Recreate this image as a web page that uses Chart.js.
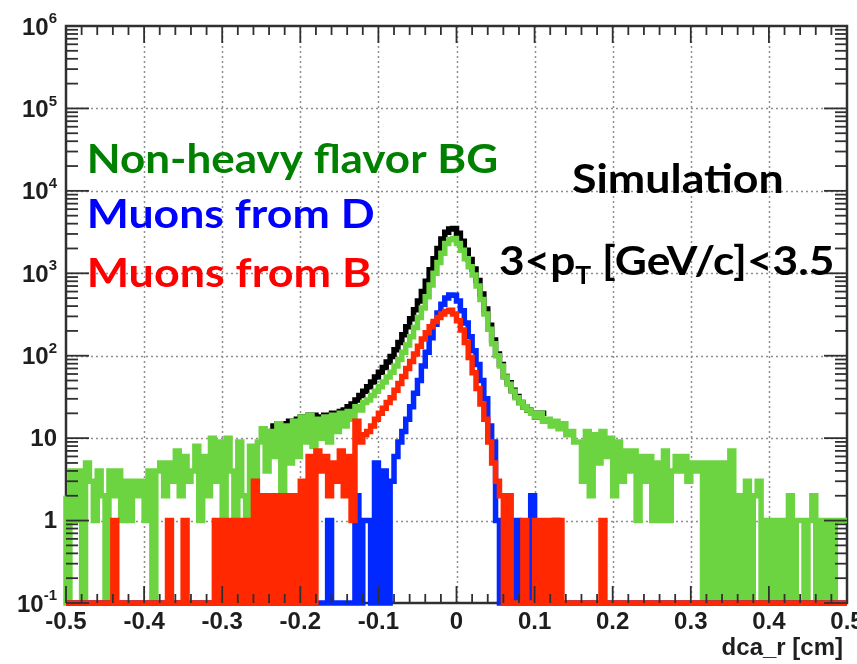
<!DOCTYPE html>
<html>
<head>
<meta charset="utf-8">
<script src="https://cdn.jsdelivr.net/npm/chart.js@4.4.1/dist/chart.umd.min.js"></script>
<style>
  html, body { margin: 0; padding: 0; background: #fff; }
  #wrap { width: 857px; height: 664px; position: relative; }
  canvas { display: block; }
</style>
</head>
<body>
<div id="wrap"><canvas id="c" width="857" height="664"></canvas></div>
<script>
// ---- binning of the dca_r histograms ----
const dcaMin = -0.5;
const dcaMax = 0.5;
const binWidth = 0.005;          // 200 bins over [-0.5, 0.5]
const yFloor = 0.1;              // bottom of the log axis (empty bins sit here)
const yCeil = 1e6;

// ---- axis ticks ----
const xTicks = [-0.5, -0.4, -0.3, -0.2, -0.1, 0, 0.1, 0.2, 0.3, 0.4, 0.5];
const xTickLabels = ["-0.5", "-0.4", "-0.3", "-0.2", "-0.1", "0", "0.1", "0.2", "0.3", "0.4", "0.5"];
const yDecades = [-1, 0, 1, 2, 3, 4, 5, 6];
const xTitle = "dca_r [cm]";

// ---- counts per bin ----
// Non-heavy flavor background (green)
const bgCounts = [
  2, 0, 4, 1, 4, 0, 5, 3, 1, 4,
  2, 0, 4, 2, 4, 1, 3, 1, 3, 2,
  3, 1, 4, 0, 4, 5, 2, 5, 3, 7,
  2, 6, 3, 4, 8, 1, 6, 2, 10, 3,
  9, 1, 10, 4, 1, 9, 2, 1, 8, 3,
  9, 13, 4, 12, 6, 15, 1, 14, 5, 16,
  6, 18, 9, 19, 8, 17, 10, 18, 9, 19,
  12, 20, 14, 21, 17, 24, 22, 27, 29, 33,
  37, 42, 48, 55, 63, 75, 90, 110, 135, 170,
  220, 290, 380, 520, 720, 1000, 1350, 1750, 2300, 2550,
  2650, 2300, 1900, 1500, 1200, 950, 700, 480, 320, 210,
  140, 100, 75, 55, 45, 37, 31, 27, 24, 22,
  20, 18, 20, 16, 17, 14, 16, 13, 15, 11,
  12, 9, 9, 3, 12, 2, 11, 5, 12, 6,
  10, 2, 9, 3, 7, 4, 7, 1, 6, 3,
  6, 1, 5, 1, 7, 1, 4, 6, 4, 6,
  3, 5, 4, 5, 0, 5, 0, 5, 0, 5,
  0, 7, 0, 2, 0, 3, 0, 2, 3, 0,
  1, 0, 1, 0, 1, 0, 2, 0, 1, 1,
  0, 1, 2, 0, 1, 0, 1, 0, 1, 1
];

// Muons from D (blue)
const charmCounts = [
  0, 0, 0, 0, 0, 0, 0, 0, 0, 0,
  0, 0, 0, 0, 0, 0, 0, 0, 0, 0,
  0, 0, 0, 0, 0, 0, 0, 0, 0, 0,
  0, 0, 0, 0, 0, 0, 0, 0, 0, 0,
  0, 0, 0, 0, 0, 0, 0, 0, 0, 0,
  0, 0, 0, 0, 0, 0, 0, 0, 0, 0,
  0, 0, 0, 0, 0, 0, 0, 0, 1, 0,
  0, 0, 0, 0, 0, 2, 0, 1, 1, 0,
  5, 0, 4, 0, 3, 6, 9, 12, 17, 24,
  35, 50, 75, 110, 165, 240, 330, 420, 500, 545,
  540, 460, 350, 250, 170, 115, 78, 50, 30, 14,
  9, 1, 0, 0, 0, 0, 1, 0, 0, 0,
  2, 0, 0, 0, 0, 0, 1, 0, 0, 0,
  0, 0, 0, 0, 0, 0, 0, 0, 0, 0,
  0, 0, 0, 0, 0, 0, 0, 0, 0, 0,
  0, 0, 0, 0, 0, 0, 0, 0, 0, 0,
  0, 0, 0, 0, 0, 0, 0, 0, 0, 0,
  0, 0, 0, 0, 0, 0, 0, 0, 0, 0,
  0, 0, 0, 0, 0, 0, 0, 0, 0, 0,
  0, 0, 0, 0, 0, 0, 0, 0, 0, 0
];

// Muons from B (red)
const beautyCounts = [
  0, 0, 0, 0, 0, 0, 0, 0, 0, 0,
  0, 0, 0, 1, 0, 0, 0, 0, 0, 0,
  0, 0, 0, 0, 0, 0, 0, 1, 0, 0,
  0, 1, 0, 0, 0, 0, 0, 0, 0, 1,
  0, 1, 0, 1, 0, 1, 0, 1, 0, 3,
  0, 2, 0, 2, 0, 2, 0, 2, 0, 2,
  0, 3, 0, 6, 0, 7, 4, 6, 2, 5,
  3, 7, 2, 6, 1, 16, 9, 11, 12, 14,
  17, 20, 23, 27, 31, 38, 46, 56, 70, 85,
  105, 130, 160, 190, 225, 260, 290, 320, 345, 355,
  320, 265, 205, 145, 95, 62, 40, 26, 17, 9,
  5, 3, 2, 0, 2, 0, 0, 0, 1, 0,
  0, 1, 0, 1, 0, 1, 0, 1, 0, 0,
  0, 0, 0, 0, 0, 0, 0, 0, 1, 0,
  0, 0, 0, 0, 0, 0, 0, 0, 0, 0,
  0, 0, 0, 0, 0, 0, 0, 0, 0, 0,
  0, 0, 0, 0, 0, 0, 0, 0, 0, 0,
  0, 0, 0, 0, 0, 0, 0, 0, 0, 0,
  0, 0, 0, 0, 0, 0, 0, 0, 0, 0,
  0, 0, 0, 0, 0, 0, 0, 0, 0, 0
];

// All muons (black), central region only: bins 52..122
const totalFirstBin = 52;
const totalCounts = [
  12, 12, 14, 15, 15, 15, 16, 16,
  17, 18, 18, 19, 19, 18, 18, 19, 19, 20,
  20, 21, 22, 24, 26, 29, 33, 37, 42, 48,
  55, 63, 72, 84, 98, 118, 145, 180, 225, 280,
  360, 460, 600, 800, 1100, 1500, 2000, 2600, 3150, 3450,
  3500, 3050, 2450, 1900, 1470, 1130, 820, 560, 370, 235,
  155, 105, 78, 56, 47, 38, 32, 27, 24, 22,
  20, 18, 20
];

// ---- colours ----
const colBG = "rgb(108, 212, 64)";
const colD = "rgb(0, 40, 255)";
const colB = "rgb(255, 40, 0)";
const colTotal = "#000000";

// step outline of a histogram: one point per left bin edge plus the closing edge
function histPoints(counts, firstBin) {
  const pts = counts.map((c, i) => ({
    x: dcaMin + (firstBin + i) * binWidth,
    y: Math.max(c, yFloor)
  }));
  const last = counts[counts.length - 1];
  pts.push({ x: dcaMin + (firstBin + counts.length) * binWidth, y: Math.max(last, yFloor) });
  return pts;
}

function histDataset(label, counts, firstBin, color, order) {
  return {
    label,
    data: histPoints(counts, firstBin),
    borderColor: color,
    backgroundColor: color,
    borderWidth: 5.5,
    borderJoinStyle: "miter",
    borderCapStyle: "butt",
    stepped: "after",
    pointRadius: 0,
    fill: false,
    order,
    clip: { left: 3, top: 0, right: 3, bottom: 3 }
  };
}

const axisFont = "bold 24px 'Liberation Sans', Arial, Helvetica, sans-serif";
const supFont = "bold 15px 'Liberation Sans', Arial, Helvetica, sans-serif";
const noteFamily = "Lato, 'Open Sans', sans-serif";

function strokeLine(ctx, x0, y0, x1, y1) {
  ctx.beginPath();
  ctx.moveTo(x0, y0);
  ctx.lineTo(x1, y1);
  ctx.stroke();
}

// draws a run of text pieces squeezed to span [x0, x1] at the given baseline
function fitText(ctx, parts, x0, x1, baseline, color) {
  let w = 0;
  let leftBearing = 0;
  parts.forEach((p, i) => {
    ctx.font = p.font;
    const m = ctx.measureText(p.text);
    p.w = m.width;
    if (i === 0) leftBearing = -m.actualBoundingBoxLeft;
    w += p.w;
  });
  ctx.font = parts[parts.length - 1].font;
  const mLast = ctx.measureText(parts[parts.length - 1].text);
  const ink = w - leftBearing - (parts[parts.length - 1].w - mLast.actualBoundingBoxRight);
  const s = (x1 - x0) / ink;
  ctx.save();
  ctx.fillStyle = color;
  ctx.textBaseline = "alphabetic";
  ctx.textAlign = "left";
  ctx.translate(x0 - leftBearing * s, baseline);
  ctx.scale(s, 1);
  let cx = 0;
  parts.forEach(p => {
    ctx.font = p.font;
    ctx.fillText(p.text, cx, p.dy || 0);
    cx += p.w;
  });
  ctx.restore();
}

const rootFrame = {
  id: "rootFrame",
  beforeDraw(chart) {
    const ctx = chart.ctx;
    ctx.save();
    ctx.fillStyle = "#ffffff";
    ctx.fillRect(0, 0, chart.width, chart.height);
    ctx.restore();
  },
  beforeDatasetsDraw(chart) {
    const { ctx, chartArea: a, scales: { x, y } } = chart;
    ctx.save();
    // dotted grid
    ctx.strokeStyle = "#8e8e8e";
    ctx.lineWidth = 1.5;
    ctx.setLineDash([2, 3]);
    xTicks.slice(1, -1).forEach(v => {
      const px = Math.round(x.getPixelForValue(v)) + 0.5;
      strokeLine(ctx, px, a.top, px, a.bottom);
    });
    yDecades.slice(1, -1).forEach(e => {
      const py = Math.round(y.getPixelForValue(Math.pow(10, e))) + 0.5;
      strokeLine(ctx, a.left, py, a.right, py);
    });
    ctx.setLineDash([]);
    // frame
    ctx.strokeStyle = "#303030";
    ctx.lineWidth = 2.5;
    ctx.strokeRect(a.left, a.top, a.right - a.left, a.bottom - a.top);
    ctx.restore();
  },
  afterDatasetsDraw(chart) {
    const { ctx, chartArea: a, scales: { x, y } } = chart;
    ctx.save();
    ctx.strokeStyle = "#303030";
    ctx.lineWidth = 1.8;

    // x ticks: major every 0.1, minor every 0.02, bottom and top
    for (let k = -25; k <= 25; k++) {
      const v = k * 0.02;
      const px = x.getPixelForValue(v);
      const len = (k % 5 === 0) ? 17 : 9;
      strokeLine(ctx, px, a.bottom, px, a.bottom - len);
      strokeLine(ctx, px, a.top, px, a.top + len);
    }
    // y ticks: decades and 2..9 sub-divisions, left and right
    yDecades.forEach(e => {
      const base = Math.pow(10, e);
      const py = y.getPixelForValue(base);
      strokeLine(ctx, a.left, py, a.left + 23, py);
      strokeLine(ctx, a.right, py, a.right - 23, py);
      if (e < yDecades[yDecades.length - 1]) {
        for (let m = 2; m <= 9; m++) {
          const pm = y.getPixelForValue(m * base);
          strokeLine(ctx, a.left, pm, a.left + 12, pm);
          strokeLine(ctx, a.right, pm, a.right - 12, pm);
        }
      }
    });

    // x tick labels
    ctx.fillStyle = "#1e1e1e";
    ctx.font = axisFont;
    ctx.textAlign = "center";
    ctx.textBaseline = "top";
    xTicks.forEach((v, i) => {
      ctx.fillText(xTickLabels[i], x.getPixelForValue(v), a.bottom + 7);
    });

    // y tick labels: 10^n with superscript exponent
    const labelRight = a.left - 9;
    yDecades.forEach(e => {
      const py = y.getPixelForValue(Math.pow(10, e));
      ctx.textBaseline = "middle";
      ctx.textAlign = "left";
      if (e === 0 || e === 1) {
        const t = e === 0 ? "1" : "10";
        ctx.font = axisFont;
        const w = ctx.measureText(t).width;
        ctx.fillText(t, labelRight - w, py + 1);
      } else {
        const sup = String(e);
        ctx.font = supFont;
        const ws = ctx.measureText(sup).width;
        ctx.font = axisFont;
        const wb = ctx.measureText("10").width;
        ctx.fillText("10", labelRight - ws - wb, py + 2);
        ctx.font = supFont;
        ctx.fillText(sup, labelRight - ws, py - 7);
      }
    });

    // x axis title
    ctx.font = axisFont;
    ctx.textAlign = "right";
    ctx.textBaseline = "alphabetic";
    ctx.fillText(xTitle, 843, 655);
    ctx.restore();

    // annotations
    const big = "bold 40px " + noteFamily;
    const sub = "bold 24px " + noteFamily;
    fitText(ctx, [{ text: "Non-heavy flavor BG", font: big }], 90, 497, 173, "#008000");
    fitText(ctx, [{ text: "Muons from D", font: big }], 90, 373, 228, "#0000ff");
    fitText(ctx, [{ text: "Muons from B", font: big }], 90, 370, 287, "#ff0000");
    fitText(ctx, [{ text: "Simulation", font: big }], 572, 782, 193, "#000000");
    fitText(ctx, [
      { text: "3<p", font: big },
      { text: "T", font: sub, dy: 9 },
      { text: " [GeV/c]<3.5", font: big }
    ], 500, 832, 275, "#000000");
  }
};

const datasets = [
  histDataset("Muons from B", beautyCounts, 0, colB, 0),
  histDataset("Muons from D", charmCounts, 0, colD, 1),
  histDataset("Non-heavy flavor BG", bgCounts, 0, colBG, 2),
  histDataset("Total", totalCounts, totalFirstBin, colTotal, 3)
];

new Chart(document.getElementById("c"), {
  type: "line",
  data: { datasets },
  options: {
    responsive: false,
    animation: false,
    devicePixelRatio: 1,
    parsing: false,
    normalized: true,
    layout: { padding: { left: 66, right: 10, top: 26, bottom: 61 } },
    scales: {
      x: { type: "linear", min: dcaMin, max: dcaMax, display: false },
      y: { type: "logarithmic", min: yFloor, max: yCeil, display: false }
    },
    plugins: {
      legend: { display: false },
      tooltip: { enabled: false }
    }
  },
  plugins: [rootFrame]
});
</script>
</body>
</html>
